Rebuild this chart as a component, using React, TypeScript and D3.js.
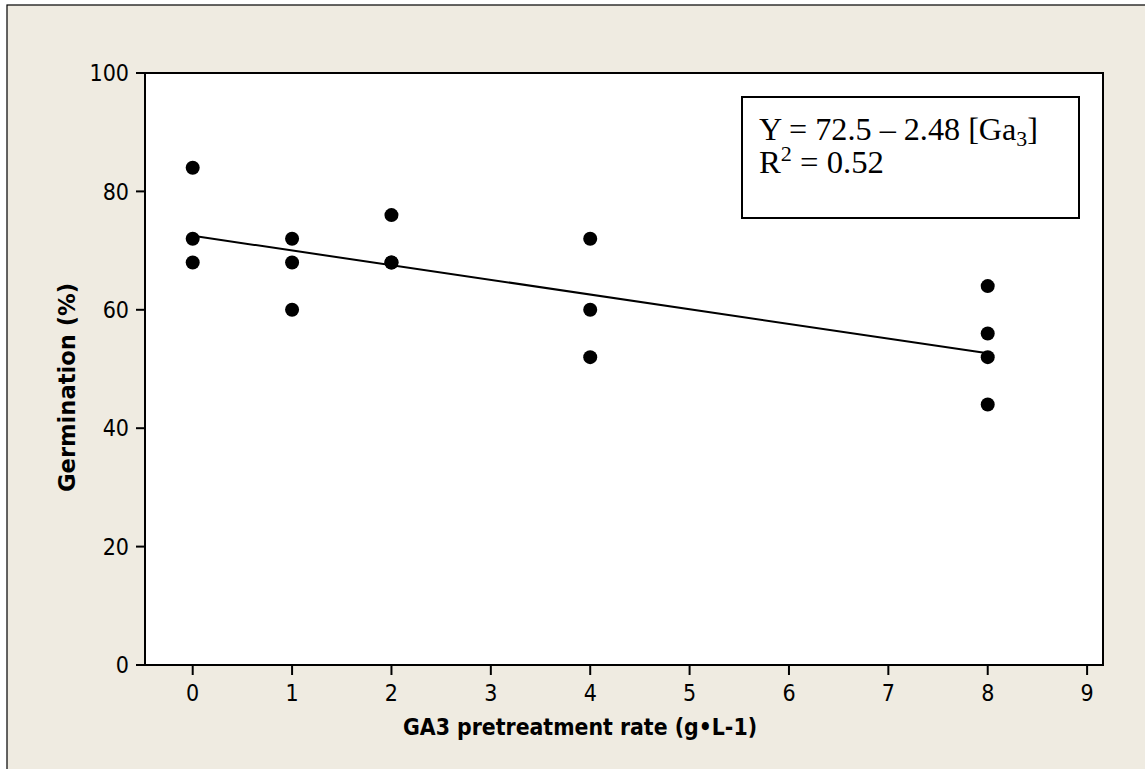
import React from 'react';
import * as d3 from 'd3';

const width = 1145;
const height = 769;

// GA3 rate (g/L) and germination (%) for each replicate
const gaRate = [0, 0, 0, 1, 1, 1, 2, 2, 2, 4, 4, 4, 8, 8, 8, 8];
const germination = [84, 72, 68, 72, 68, 60, 76, 68, 68, 72, 60, 52, 64, 56, 52, 44];

// fitted line end points (Y = 72.5 - 2.48 x)
const fitX = [0, 8];
const fitY = [72.5, 52.66];

const xTicks = [0, 1, 2, 3, 4, 5, 6, 7, 8, 9];
const yTicks = [0, 20, 40, 60, 80, 100];

const plot = { left: 145, top: 73, right: 1103, bottom: 665 };

const sans = "'DejaVu Sans Condensed', 'DejaVu Sans', sans-serif";
const serif = "'Liberation Serif', 'DejaVu Serif', serif";

const App = () => {
  const x = d3.scaleLinear().domain([-0.48, 9.16]).range([plot.left, plot.right]);
  const y = d3.scaleLinear().domain([0, 100]).range([plot.bottom, plot.top]);

  const fitLine = d3
    .line<number>()
    .x((d, i) => x(fitX[i]))
    .y(d => y(d));

  const tickStyle = { fontFamily: sans, fontSize: '23px', fontStretch: 'condensed' };
  const titleStyle = { fontFamily: sans, fontSize: '23px', fontWeight: 'bold', fontStretch: 'condensed' };
  const eqStyle = { fontFamily: serif, fontSize: '31px' };

  return (
    <svg
      width={width}
      height={height}
      style={{ position: 'absolute', left: 0, top: 0, background: '#ffffff' }}
    >
      {/* outer frame, runs off the right and bottom edges */}
      <rect x={7} y={5} width={width + 20} height={height + 20} fill="#efebe1" stroke="#000" strokeWidth={1.2} />

      {/* plot area */}
      <rect
        x={plot.left}
        y={plot.top}
        width={plot.right - plot.left}
        height={plot.bottom - plot.top}
        fill="#ffffff"
        stroke="#000"
        strokeWidth={2}
      />

      {/* y axis */}
      {yTicks.map(t => (
        <g key={'y' + t}>
          <line x1={plot.left - 9} x2={plot.left} y1={y(t)} y2={y(t)} stroke="#000" strokeWidth={2} />
          <text x={plot.left - 16} y={y(t)} dy="0.36em" textAnchor="end" style={tickStyle}>
            {t}
          </text>
        </g>
      ))}

      {/* x axis */}
      {xTicks.map(t => (
        <g key={'x' + t}>
          <line x1={x(t)} x2={x(t)} y1={plot.bottom} y2={plot.bottom + 10} stroke="#000" strokeWidth={2} />
          <text x={x(t)} y={701} textAnchor="middle" style={tickStyle}>
            {t}
          </text>
        </g>
      ))}

      {/* axis titles */}
      <text x={403} y={735} textLength={354} lengthAdjust="spacingAndGlyphs" style={titleStyle}>
        GA3 pretreatment rate (g•L-1)
      </text>
      <text
        transform={`translate(75, 492) rotate(-90)`}
        textLength={209}
        lengthAdjust="spacingAndGlyphs"
        style={titleStyle}
      >
        Germination (%)
      </text>

      {/* fitted line */}
      <path d={fitLine(fitY) || ''} fill="none" stroke="#000" strokeWidth={2} />

      {/* points */}
      {germination.map((v, i) => (
        <circle key={i} cx={x(gaRate[i])} cy={y(v)} r={7} fill="#000" />
      ))}

      {/* equation box */}
      <rect x={742} y={97} width={337} height={121} fill="#ffffff" stroke="#000" strokeWidth={2} />
      <text x={759} y={140} textLength={279} lengthAdjust="spacingAndGlyphs" style={eqStyle}>
        Y = 72.5 – 2.48 [Ga<tspan dy="6" style={{ fontSize: '21px' }}>3</tspan>
        <tspan dy="-6">]</tspan>
      </text>
      <text x={759} y={173} textLength={125} lengthAdjust="spacingAndGlyphs" style={eqStyle}>
        R<tspan dy="-12" style={{ fontSize: '21px' }}>2</tspan>
        <tspan dy="12"> = 0.52</tspan>
      </text>
    </svg>
  );
};

export default App;
